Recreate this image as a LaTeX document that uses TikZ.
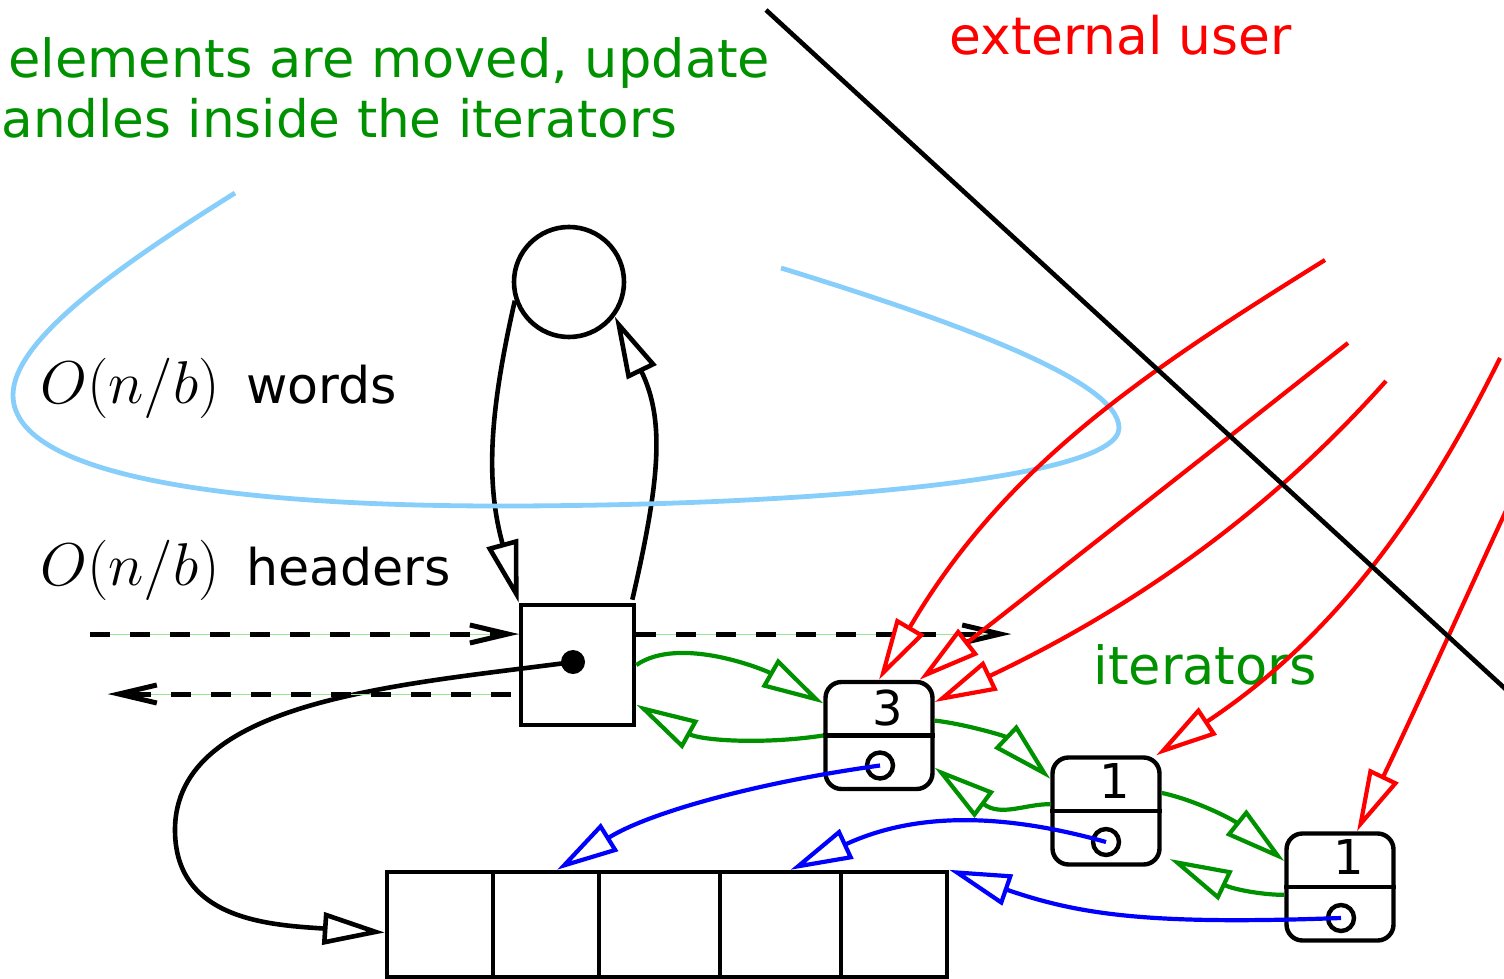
\RequirePackage{fix-cm}
\documentclass[tikz,border=0pt]{standalone}
\usepackage[no-math]{fontspec}
\setmainfont{DejaVu Sans}
\usetikzlibrary{arrows.meta,calc}
\definecolor{igreen}{RGB}{0,145,0}
\definecolor{lblue}{RGB}{135,206,250}
\definecolor{lgreen}{RGB}{150,230,150}
\begin{document}
\begin{tikzpicture}[x=0.5pt,y=-0.5pt,
  tri/.tip={Triangle[length=31pt,width=16pt,fill=white]},
  chev/.tip={Straight Barb[length=19pt,width=9pt]},
  blk/.style={line width=2.3pt,black},
  col/.style={line width=2.1pt},
  itbox/.style={draw,line width=2.2pt,rounded corners=8pt,minimum width=53.5pt,minimum height=53.5pt,inner sep=0pt},
  hnd/.style={circle,draw,line width=2.2pt,minimum size=13pt,inner sep=0pt},
  digit/.style={inner sep=0pt,font=\fontsize{24}{24}\selectfont},
  cell/.style={draw,line width=2.2pt,minimum height=52.5pt,inner sep=0pt},
  gtext/.style={inner sep=0pt,text=igreen,font=\fontsize{26.3}{30}\selectfont,anchor=base west},
  rtext/.style={inner sep=0pt,text=red,font=\fontsize{25.9}{30}\selectfont,anchor=base west},
  btext/.style={inner sep=0pt,text=black,font=\fontsize{25.3}{30}\selectfont,anchor=base west},
  dashline/.style={line width=2.5pt,dash pattern=on 10pt off 10pt},
  guide/.style={line width=0.5pt,lgreen}
]
\useasboundingbox (0,0) rectangle (1504,979);

% ---------- nodes ----------
\node[circle,draw,line width=2.3pt,minimum size=55pt,inner sep=0pt] (circ) at (569,282) {};
\node[draw,line width=2.3pt,minimum width=56.5pt,minimum height=60pt,inner sep=0pt] (box) at (577.5,665) {};

\node[itbox] (it3) at (879,735.5) {};
\node[itbox] (it1a) at (1106,811) {};
\node[itbox] (it1b) at (1340,887) {};
\foreach \n in {it3,it1a,it1b} {\draw[line width=2.2pt] (\n.west) -- (\n.east);}
\node[digit] (d3) at ($(it3.center)+(9,-27)$) {3};
\node[digit] (d1a) at ($(it1a.center)+(9,-30)$) {1};
\node[digit] (d1b) at ($(it1b.center)+(9,-30)$) {1};
\node[hnd] (h3) at ($(it3.center)+(1,30)$) {};
\node[hnd] (h1a) at ($(it1a.center)+(0,31)$) {};
\node[hnd] (h1b) at ($(it1b.center)+(1,31)$) {};

\node[cell,minimum width=53pt] (cell1) at (440,924.5) {};
\node[cell,minimum width=53pt] (cell2) at (546,924.5) {};
\node[cell,minimum width=60.5pt] (cell3) at (659.5,924.5) {};
\node[cell,minimum width=60.5pt] (cell4) at (780.5,924.5) {};
\node[cell,minimum width=53pt] (cell5) at (894,924.5) {};

% ---------- texts ----------
\node[gtext] (tl1) at (8,78) {elements are moved, update};
\node[gtext,font=\fontsize{25.8}{30}\selectfont] (tl2) at (1,138) {andles inside the iterators};
\node[rtext] (eu) at (949,55) {external user};
\node[btext] (words) at (40,403) {{\fontsize{30.2}{34}\selectfont$O(n/b)$}\hspace{13pt}words};
\node[btext] (heads) at (40,585) {{\fontsize{30.2}{34}\selectfont$O(n/b)$}\hspace{13pt}headers};
\node[gtext] (its) at (1093,684) {iterators};

% ---------- black connectors ----------
\draw[blk,-{tri}] (circ.199) .. controls (490,410) and (485,480) .. (box.north west);
\draw[blk,-{tri}] ($(box.north east)+(-4,-3)$) .. controls (660,480) and (665,420) .. (circ.-37);
\node[circle,fill,minimum size=12pt,inner sep=0pt] (dot) at (573,662) {};
\draw[blk,-{tri}] (dot.center) .. controls (400,685) and (175,700) .. (175,830)
   .. controls (175,920) and (270,925) .. ($(cell1.west)+(0,8)$);

% ---------- light blue loop ----------
\draw[lblue,line width=2.4pt] (235,193) .. controls (120,265) and (13,340) .. (13,395)
   .. controls (13,480) and (250,506) .. (500,506)
   .. controls (800,506) and (1119,480) .. (1119,428)
   .. controls (1119,380) and (950,320) .. (781,268);

% ---------- dashed header links ----------
\coordinate (hin) at (90,634);
\coordinate (hout) at (1011,634);
\coordinate (hback) at (108,694);
\draw[guide] (hin) -- (box.west |- hin);
\draw[dashline,-{chev}] (hin) -- (box.west |- hin);
\draw[guide] (box.east |- hout) -- (hout);
\draw[dashline,-{chev}] (box.east |- hout) -- (hout);
\draw[guide] ([xshift=-4pt]box.west |- hback) -- (hback);
\draw[dashline,-{chev}] ([xshift=-4pt]box.west |- hback) -- (hback);

% ---------- green iterator links ----------
\begin{scope}[col,igreen]
\draw[-{tri}] (box.east) .. controls (680,635) and (765,670) .. (it3.150);
\draw[-{tri}] (it3.west) .. controls (760,745) and (700,740) .. (box.-34);
\draw[-{tri}] (it3.15) .. controls (965,724) and (1005,736) .. (it1a.150);
\draw[-{tri}] (it1a.173) .. controls (1025,804) and (1001,817) .. (it3.-30);
\draw[-{tri}] (it1a.18) .. controls (1195,800) and (1232,819) .. (it1b.155);
\draw[-{tri}] (it1b.188) .. controls (1265,895) and (1235,890) .. ($(it1a.-37)+(8,6)$);
\end{scope}

% ---------- blue handle links ----------
\begin{scope}[col,blue]
\draw[-{tri}] (h3.center) .. controls (760,782) and (650,812) .. ($(cell2.north)+(11,0)$);
\draw[-{tri}] (h1a.center) .. controls (1010,815) and (920,810) .. ($(cell4.north)+(10,0)$);
\draw[-{tri}] (h1b.center) .. controls (1150,925) and (1080,915) .. (cell5.north east);
\end{scope}

% ---------- red external pointers ----------
\coordinate (r1) at (1325,260);
\coordinate (r2) at (1348,343);
\coordinate (r3) at (1386,381);
\coordinate (r4) at (1500,358);
\coordinate (r5) at (1510,502);
\begin{scope}[col,red]
\draw[-{tri}] (r1) .. controls (1145,372) and (1005,465) .. (it3.north);
\draw[-{tri}] (r2) .. controls (1200,460) and (1060,570) .. (it3.54);
\draw[-{tri}] (r3) .. controls (1280,500) and (1150,600) .. (it3.31);
\draw[-{tri}] (r4) .. controls (1420,520) and (1330,640) .. (it1a.48);
\draw[-{tri}] (r5) .. controls (1460,610) and (1420,700) .. (it1b.73);
\end{scope}

% ---------- boundary line ----------
\coordinate (bA) at (766,10);
\coordinate (bB) at (1512,695);
\draw[blk] (bA) -- (bB);
\end{tikzpicture}
\end{document}
